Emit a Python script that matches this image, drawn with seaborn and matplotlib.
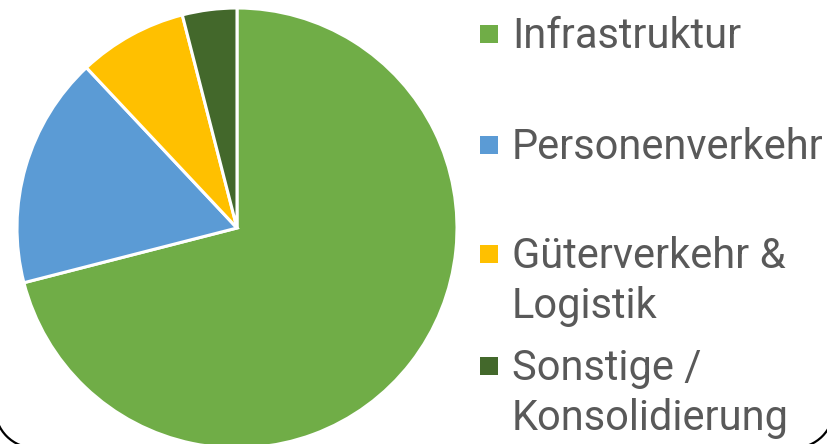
import matplotlib as mpl
mpl.use("Agg")
import matplotlib.pyplot as plt
import matplotlib.patches as mpatches
import matplotlib.transforms as mtransforms
import seaborn as sns

labels = ["Infrastruktur", "Personenverkehr", "Güterverkehr &\nLogistik", "Sonstige /\nKonsolidierung"]
shares = [71, 17, 8, 4]
colors = ["#70AD47", "#5B9BD5", "#FFC000", "#43682B"]

sns.set_theme(style="white")
plt.rcParams['font.family'] = ['Roboto', 'DejaVu Sans']

W, H = 828, 444
fig = plt.figure(figsize=(W / 100, H / 100), dpi=100)
fig.patch.set_facecolor("white")

# pie: centre (237, 228) px from top-left, radius 220 px
r_px = 220
cx, cy = 237, 228
ax = fig.add_axes([(cx - r_px) / W, (H - cy - r_px) / H, 2 * r_px / W, 2 * r_px / H])
ax.pie(shares, colors=colors, startangle=90, counterclock=False, radius=1,
       wedgeprops={'edgecolor': 'white', 'linewidth': 2.2})
ax.set_xlim(-1, 1)
ax.set_ylim(-1, 1)
ax.set_aspect('equal')
ax.axis('off')

# legend drawn by hand (baseline of first line per entry, px from top)
first_baselines = [48, 159, 268, 380]
line_step = 50
text_x = 512
for lab, col, base in zip(labels, colors, first_baselines):
    for i, line in enumerate(lab.split("\n")):
        fig.text(text_x / W, 1 - (base + i * line_step) / H, line, fontsize=30,
                 color="#595959", va='baseline', ha='left')
    sq = mpatches.Rectangle((480 / W, 1 - (base - 5) / H), 18 / W, 18 / H,
                            transform=fig.transFigure, facecolor=col, edgecolor='none')
    fig.add_artist(sq)

# rounded frame corners of the screenshot (pixel coords, origin bottom-left)
ident = mtransforms.IdentityTransform()
for xc, t1, t2 in [(35, 180, 270), (794, 270, 360)]:
    arc = mpatches.Arc((xc, 36), 80, 80, theta1=t1, theta2=t2, transform=ident,
                       color='black', linewidth=1.6)
    fig.add_artist(arc)

fig.savefig("out.png", dpi=100)
